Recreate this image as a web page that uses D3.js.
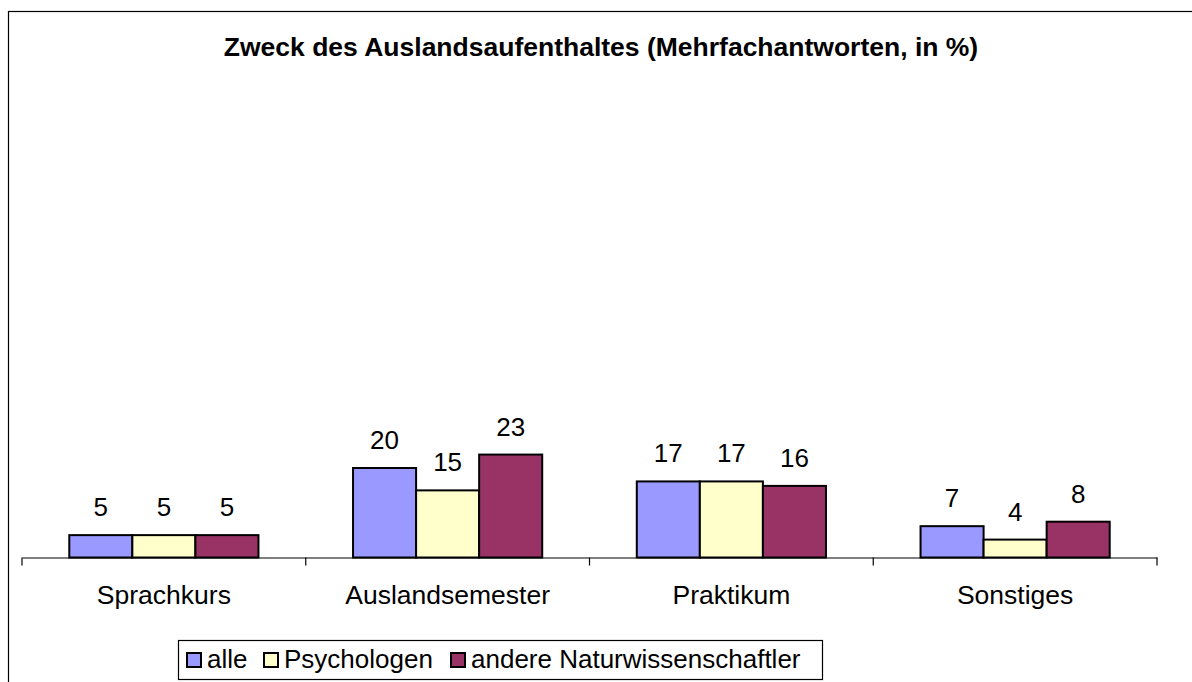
<!DOCTYPE html>
<html>
<head>
<meta charset="utf-8">
<title>Zweck des Auslandsaufenthaltes</title>
<script src="https://cdn.jsdelivr.net/npm/d3@7"></script>
<style>
  body { margin: 0; background: #fff; }
  text { font-family: "Liberation Sans", Arial, sans-serif; fill: #000; }
</style>
</head>
<body>
<script>
var categories = ['Sprachkurs', 'Auslandsemester', 'Praktikum', 'Sonstiges'];
var seriesNames = ['alle', 'Psychologen', 'andere Naturwissenschaftler'];
var alle = [5, 20, 17, 7];
var psychologen = [5, 15, 17, 4];
var andere = [5, 23, 16, 8];
var colors = ['#9999ff', '#ffffcc', '#993366'];

var values = [alle, psychologen, andere];

var W = 1192, H = 682;
var svg = d3.select('body').append('svg').attr('width', W).attr('height', H);

// outer frame (runs off the right / bottom edge like in the original)
svg.append('rect')
    .attr('x', 8.5).attr('y', 11.5)
    .attr('width', W).attr('height', H)
    .attr('fill', 'none').attr('stroke', '#000').attr('stroke-width', 1.2);

svg.append('text')
    .attr('x', 601).attr('y', 56)
    .attr('text-anchor', 'middle')
    .attr('font-size', '26.5px')
    .attr('font-weight', 'bold')
    .text('Zweck des Auslandsaufenthaltes (Mehrfachantworten, in %)');

var x = d3.scaleBand().domain(categories).range([22, 1157]).padding(0);
var bw = x.bandwidth() / 4.5;   // gap width 150%
var xs = d3.scaleBand().domain(seriesNames).range([0, bw * 3]);
var y = d3.scaleLinear().domain([0, 100]).range([557.5, 110]);

var rows = [];
categories.forEach(function (c, i) {
    seriesNames.forEach(function (s, j) {
        rows.push({ cat: c, series: s, idx: j, value: values[j][i] });
    });
});

var g = svg.append('g');
g.selectAll('rect.bar')
    .data(rows)
    .enter().append('rect')
    .attr('class', 'bar')
    .attr('x', function (d) { return x(d.cat) + bw * 0.75 + xs(d.series); })
    .attr('y', function (d) { return y(d.value); })
    .attr('width', xs.bandwidth())
    .attr('height', function (d) { return y(0) - y(d.value); })
    .attr('fill', function (d) { return colors[d.idx]; })
    .attr('stroke', '#000')
    .attr('stroke-width', 2);

g.selectAll('text.val')
    .data(rows)
    .enter().append('text')
    .attr('class', 'val')
    .attr('x', function (d) { return x(d.cat) + bw * 0.75 + xs(d.series) + xs.bandwidth() / 2; })
    .attr('y', function (d) { return y(d.value) - 19; })
    .attr('text-anchor', 'middle')
    .attr('font-size', '26px')
    .text(function (d) { return d.value; });

// category axis
var axis = d3.axisBottom(x).tickSize(0).tickPadding(0);
var ax = svg.append('g').attr('transform', 'translate(0,' + y(0) + ')').call(axis);
ax.select('.domain').attr('stroke', '#000').attr('stroke-width', 1.2);
ax.selectAll('.tick text')
    .attr('font-size', '26.5px')
    .attr('font-family', '"Liberation Sans", Arial, sans-serif')
    .attr('dy', 0)
    .attr('y', 46);

var bounds = categories.map(function (c) { return x(c); }).concat([x.range()[1]]);
ax.selectAll('line.sep')
    .data(bounds)
    .enter().append('line')
    .attr('class', 'sep')
    .attr('x1', function (d) { return d; }).attr('x2', function (d) { return d; })
    .attr('y1', 0).attr('y2', 8)
    .attr('stroke', '#000').attr('stroke-width', 1.2);

// legend
var legendX = [187, 264, 451];
var legend = svg.append('g');
legend.append('rect')
    .attr('x', 178.5).attr('y', 640.5)
    .attr('width', 644).attr('height', 39)
    .attr('fill', '#fff').attr('stroke', '#000').attr('stroke-width', 1.2);

var items = legend.selectAll('g.item')
    .data(seriesNames)
    .enter().append('g')
    .attr('class', 'item')
    .attr('transform', function (d, i) { return 'translate(' + legendX[i] + ',0)'; });
items.append('rect')
    .attr('x', 0).attr('y', 653)
    .attr('width', 14).attr('height', 14)
    .attr('fill', function (d, i) { return colors[i]; })
    .attr('stroke', '#000').attr('stroke-width', 2);
items.append('text')
    .attr('x', 20).attr('y', 668)
    .attr('font-size', '26px')
    .text(function (d) { return d; });
</script>
</body>
</html>
